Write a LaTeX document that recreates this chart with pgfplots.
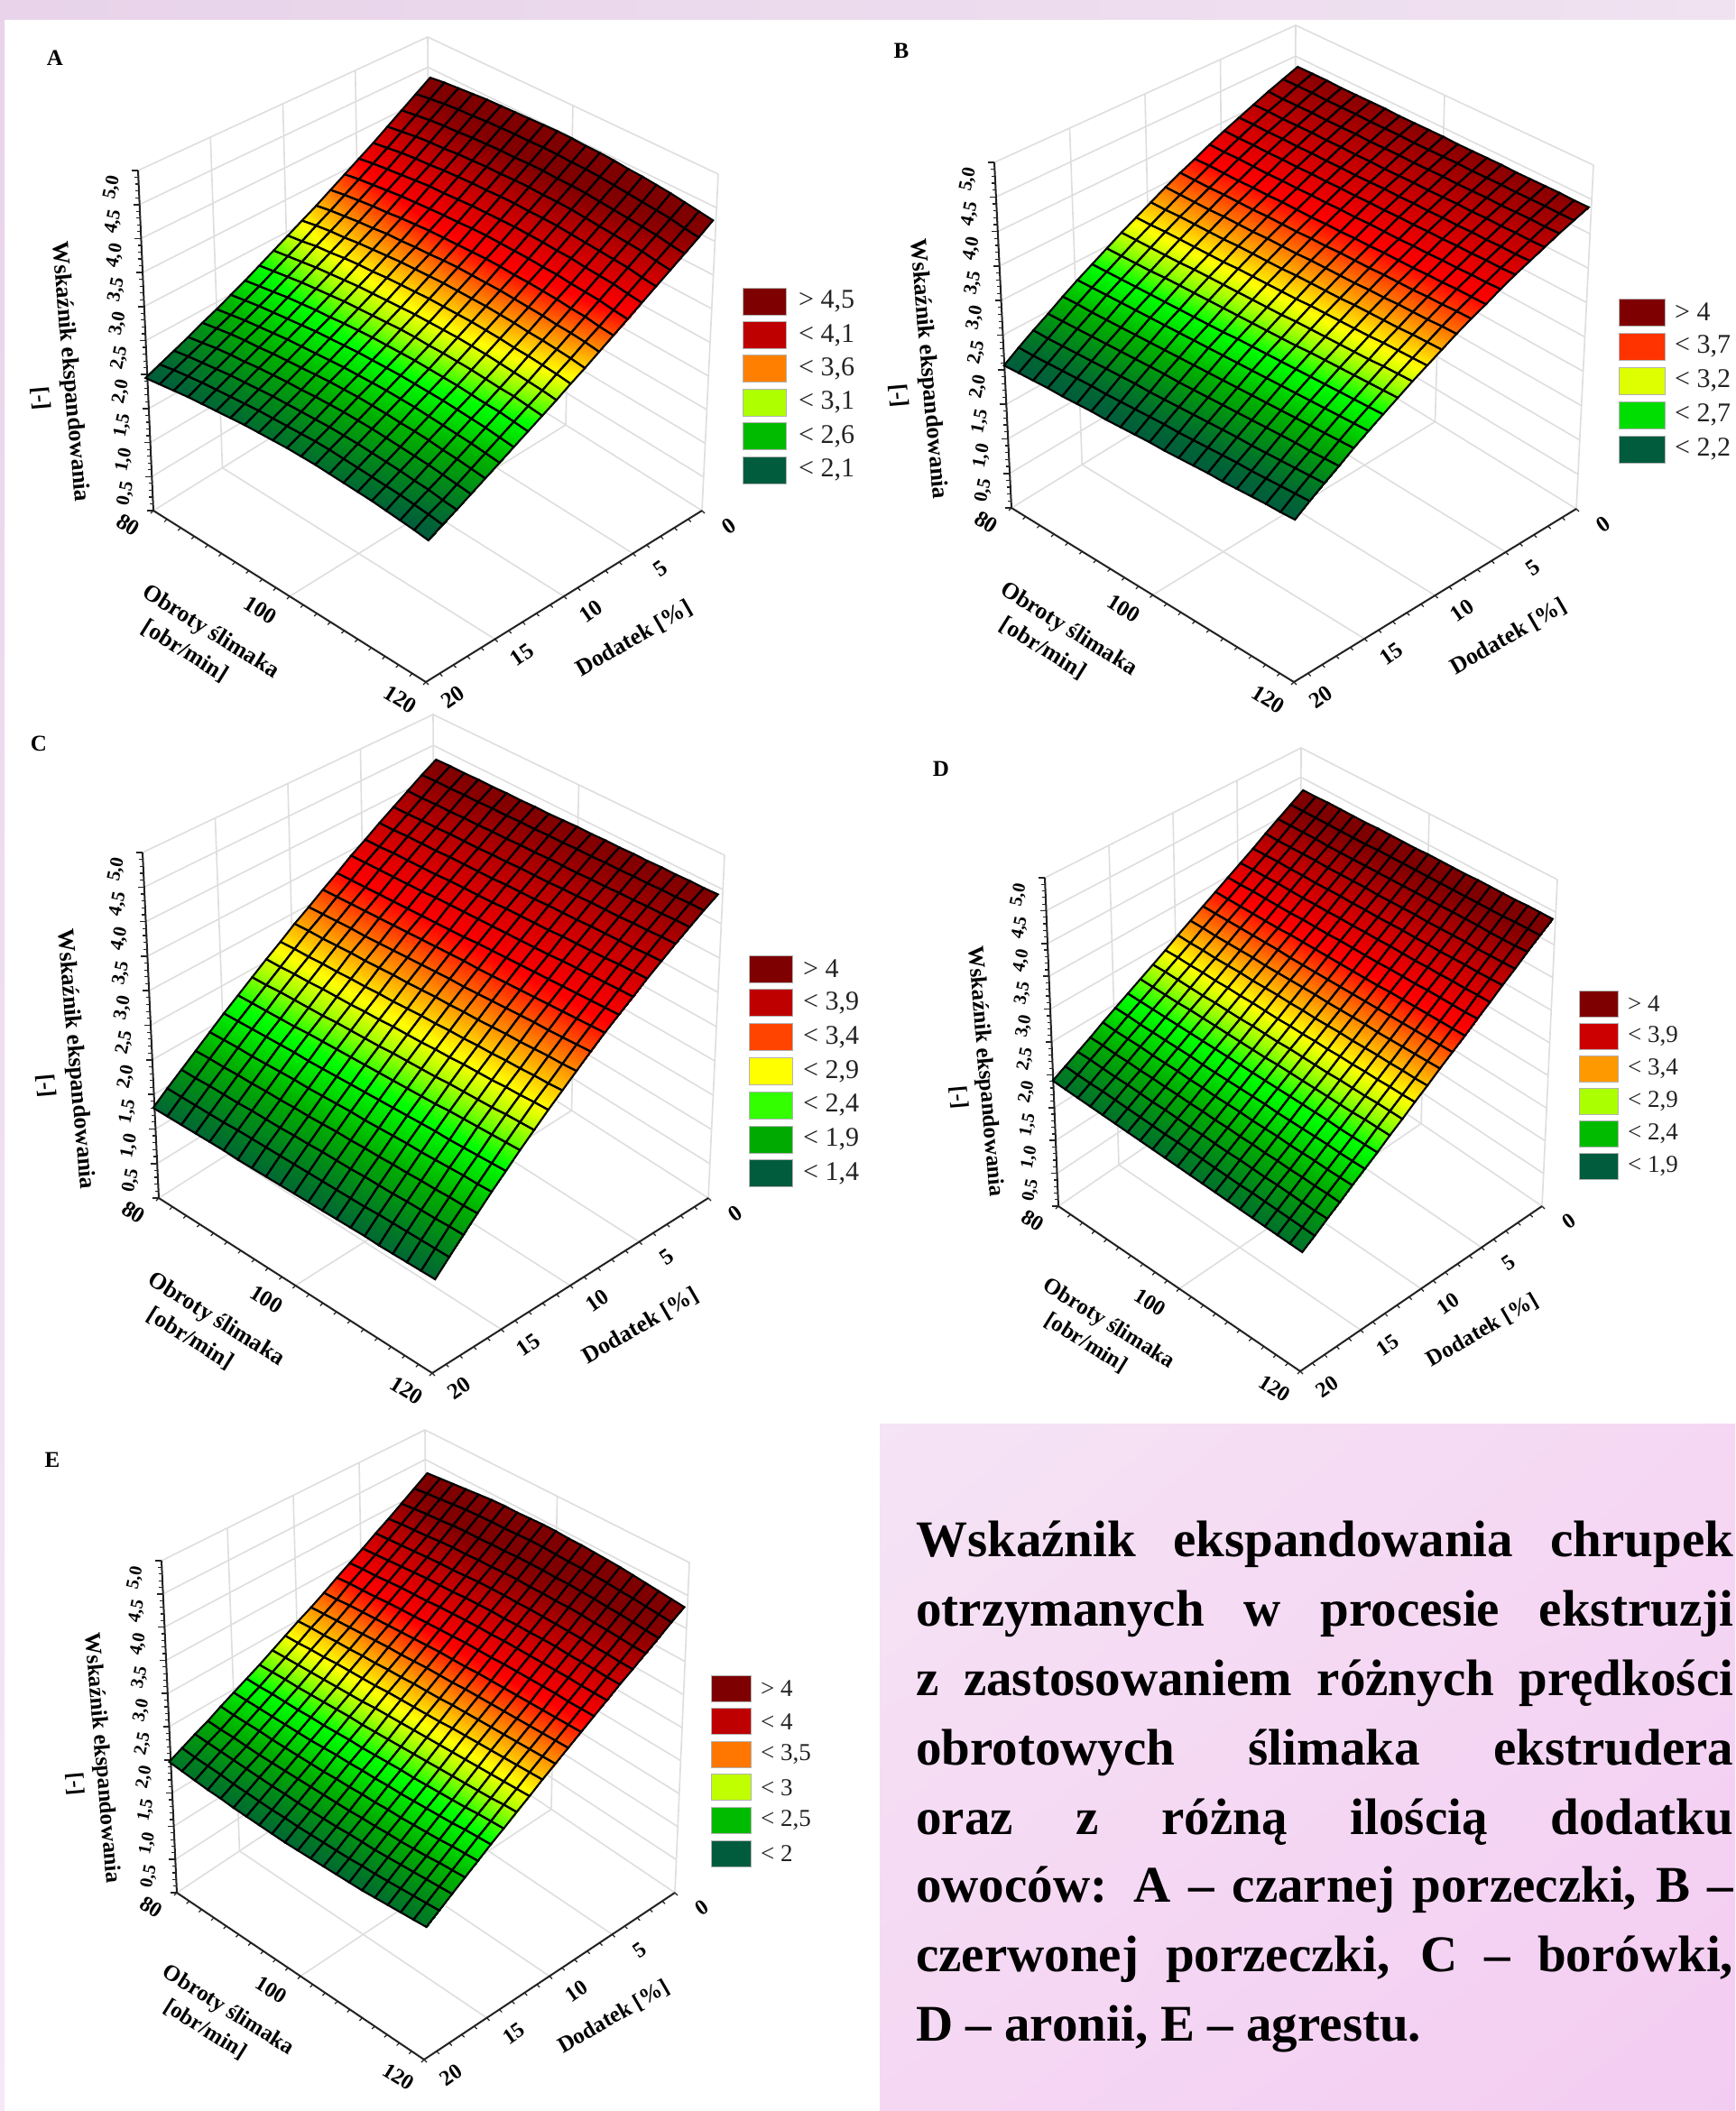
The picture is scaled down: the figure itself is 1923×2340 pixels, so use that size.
\documentclass[border=0pt]{standalone}
\usepackage{pgfplots}
\usepackage{pgfplotstable}
\pgfplotsset{compat=1.18}
\usepackage{fontspec}
\setmainfont{Liberation Serif}
\usetikzlibrary{calc,shadings}
\pgfplotsset{colormap={stat}{rgb255(0cm)=(0,92,60) rgb255(5cm)=(0,130,30) rgb255(10cm)=(0,175,0) rgb255(16cm)=(0,255,0) rgb255(20cm)=(160,255,0) rgb255(23cm)=(255,255,0) rgb255(28cm)=(255,128,0) rgb255(33cm)=(255,0,0) rgb255(40cm)=(191,0,0) rgb255(46cm)=(127,0,0)}}
\pgfplotsset{surfax/.style={hide axis,clip=false,anchor=center,xmin=80,xmax=120,ymin=0,ymax=20,zmin=0,zmax=5,colormap name=stat},
sp/.style={surf,shader=interp,mesh/rows=21,mesh/cols=21,point meta=explicit},
sl/.style={surf,shader=faceted,faceted color=black,fill opacity=0,line width=2.1pt,mesh/rows=21,mesh/cols=21,point meta=explicit}}
\definecolor{gl}{HTML}{DEDEDE}
\definecolor{ax}{HTML}{222222}
\definecolor{cDR}{HTML}{7F0000}
\definecolor{cR}{HTML}{BF0000}
\definecolor{cO}{HTML}{FF8000}
\definecolor{cYG}{HTML}{AEFF00}
\definecolor{cG}{HTML}{00BB00}
\definecolor{cDG}{HTML}{005C3C}
\definecolor{cB3}{HTML}{FF3300}
\definecolor{cB2}{HTML}{DDFF00}
\definecolor{cB1}{HTML}{00DD00}
\definecolor{cC4}{HTML}{FF4400}
\definecolor{cC3}{HTML}{FFFF00}
\definecolor{cC2}{HTML}{33FF00}
\definecolor{cC1}{HTML}{00AA00}
\definecolor{cD4}{HTML}{CC0000}
\definecolor{cD3}{HTML}{FF9900}
\definecolor{cD2}{HTML}{AAFF00}
\definecolor{cE3}{HTML}{FF7700}
\definecolor{cE2}{HTML}{BFFF00}
\newcommand\Frame[5]{%
\coordinate (BF) at ($(LB)+(RB)-(FB)$);
\foreach \t in {0,0.1,0.2,0.3,0.4,0.5,0.6,0.7,0.8,0.9,1}{\draw[gl,line width=1.6pt] ($(LB)!\t!(LT)$) -- ($(BF)!\t!(BT)$) -- ($(RB)!\t!(RT)$);}
\foreach \t in {0.25,0.5,0.75}{\draw[gl,line width=1.6pt] ($(LB)!\t!(BF)$) -- ($(LT)!\t!(BT)$);\draw[gl,line width=1.6pt] ($(LB)!\t!(BF)$) -- ($(FB)!\t!(RB)$);}
\draw[gl,line width=1.6pt] ($(BF)!.5!(RB)$) -- ($(BT)!.5!(RT)$);
\draw[gl,line width=1.6pt] ($(LB)!.5!(FB)$) -- ($(BF)!.5!(RB)$);
\draw[gl,line width=1.6pt] (BF) -- (BT) (RB) -- (RT);
\draw[ax,line width=2pt] (LT) -- (LB) -- (FB) -- (RB);
\foreach \k in {0,...,50}{\draw[ax,line width=1.2pt] ($(LB)!\k/50!(LT)$) -- ++(-4,0);}
\foreach \k in {0,5,...,50}{\draw[ax,line width=1.6pt] ($(LB)!\k/50!(LT)$) -- ++(-7,0);}
\foreach \k in {0,...,20}{\draw[ax,line width=1.2pt] ($(LB)!\k/20!(FB)$) -- ++(-3,3);\draw[ax,line width=1.2pt] ($(RB)!\k/20!(FB)$) -- ++(3,3);}
\foreach \k/\l in {1/{0,5},2/{1,0},3/{1,5},4/{2,0},5/{2,5},6/{3,0},7/{3,5},8/{4,0},9/{4,5},10/{5,0}}{\node[rotate=78,font=\fontsize{#5}{#5}\selectfont\bfseries,inner sep=0pt] at ($(LB)!\k/10!(LT)+(-29,19)$) {\l};}
\node[rotate=-32,font=\fontsize{#4}{#4}\selectfont\bfseries,inner sep=0pt] at ($(LB)+(-28,16)$) {80};
\node[rotate=-32,font=\fontsize{#4}{#4}\selectfont\bfseries,inner sep=0pt] at ($(LB)!.5!(FB)+(-32,15)$) {100};
\node[rotate=-32,font=\fontsize{#4}{#4}\selectfont\bfseries,inner sep=0pt] at ($(FB)+(-28,19)$) {120};
\foreach \k/\l in {0/0,1/5,2/10,3/15,4/20}{\node[rotate=35,font=\fontsize{#4}{#4}\selectfont\bfseries,inner sep=0pt] at ($(RB)!\k/4!(FB)+(30,17)$) {\l};}
\node[rotate=-32,font=\fontsize{#3}{#3}\selectfont\bfseries,inner sep=0pt] at ($(LB)+(63*#1,135*#2)$) {Obroty ślimaka};
\node[rotate=-32,font=\fontsize{#3}{#3}\selectfont\bfseries,inner sep=0pt] at ($(LB)+(35*#1,156*#2)$) {[obr/min]};
\node[rotate=30,font=\fontsize{#3}{#3}\selectfont\bfseries,inner sep=0pt] at ($(RB)+(-75*#1,142*#2)$) {Dodatek [\%]};
\node[rotate=-85,font=\fontsize{#3}{#3}\selectfont\bfseries,inner sep=0pt] at ($(LB)+(-93*#1,-154*#2)$) {Wskaźnik ekspandowania};
\node[rotate=-85,font=\fontsize{#3}{#3}\selectfont\bfseries,inner sep=0pt] at ($(LB)+(-125*#1,-124*#2)$) {[-]};
}
\newcommand\Leg[8]{\foreach \c/\l [count=\i from 0] in {#8}{
\fill[\c,draw=gray!60,line width=1pt] (#1,#2+#3*\i) rectangle ++(#4,#5);
\node[anchor=west,inner sep=0pt,text=ax,font=\fontsize{#7}{#7}\selectfont] at (#6,#2+#5/2+#3*\i) {\l};}}
\newcommand\TL[2]{\node[anchor=base west,inner sep=0pt,font=\fontsize{57}{57}\selectfont\bfseries] at (1015,#1) {\makebox[906pt][s]{#2}};}
\pgfplotstableread[header=false]{
2.05
2.14
2.23
2.32
2.42
2.51
2.61
2.71
2.82
2.93
3.04
3.15
3.26
3.38
3.50
3.62
3.74
3.87
4.00
4.13
4.26
2.07
2.17
2.26
2.35
2.45
2.54
2.64
2.74
2.85
2.96
3.07
3.19
3.30
3.42
3.54
3.66
3.78
3.91
4.04
4.17
4.30
2.09
2.19
2.28
2.38
2.48
2.57
2.67
2.77
2.88
2.99
3.11
3.22
3.33
3.45
3.57
3.69
3.82
3.95
4.08
4.21
4.33
2.11
2.21
2.30
2.40
2.50
2.59
2.69
2.80
2.91
3.02
3.13
3.24
3.36
3.48
3.60
3.72
3.85
3.98
4.11
4.24
4.36
2.12
2.22
2.32
2.41
2.51
2.61
2.71
2.82
2.93
3.04
3.16
3.27
3.38
3.50
3.63
3.75
3.87
4.00
4.13
4.26
4.39
2.13
2.23
2.33
2.43
2.53
2.63
2.73
2.84
2.95
3.06
3.18
3.29
3.41
3.53
3.65
3.78
3.90
4.03
4.16
4.29
4.41
2.14
2.24
2.34
2.44
2.54
2.64
2.75
2.85
2.97
3.08
3.19
3.31
3.42
3.55
3.67
3.79
3.92
4.05
4.18
4.31
4.43
2.15
2.25
2.35
2.45
2.55
2.65
2.76
2.87
2.98
3.09
3.21
3.33
3.44
3.57
3.69
3.81
3.94
4.07
4.20
4.33
4.45
2.15
2.25
2.35
2.45
2.56
2.66
2.77
2.88
2.99
3.10
3.22
3.34
3.45
3.58
3.70
3.83
3.95
4.08
4.21
4.34
4.47
2.15
2.25
2.35
2.46
2.57
2.67
2.78
2.89
3.00
3.11
3.23
3.35
3.47
3.59
3.72
3.84
3.97
4.10
4.23
4.36
4.49
2.15
2.25
2.35
2.46
2.57
2.67
2.78
2.89
3.01
3.12
3.24
3.36
3.48
3.60
3.73
3.85
3.98
4.11
4.24
4.37
4.50
2.14
2.25
2.35
2.46
2.57
2.67
2.78
2.89
3.01
3.12
3.24
3.36
3.48
3.61
3.73
3.86
3.98
4.11
4.24
4.37
4.50
2.13
2.24
2.34
2.45
2.56
2.67
2.78
2.89
3.00
3.12
3.24
3.36
3.48
3.61
3.73
3.86
3.99
4.12
4.25
4.38
4.51
2.11
2.22
2.33
2.44
2.55
2.66
2.77
2.88
3.00
3.12
3.24
3.36
3.48
3.60
3.73
3.86
3.99
4.12
4.25
4.38
4.51
2.09
2.20
2.31
2.42
2.53
2.65
2.76
2.87
2.99
3.11
3.23
3.35
3.47
3.60
3.72
3.85
3.98
4.11
4.24
4.37
4.50
2.07
2.18
2.29
2.40
2.52
2.63
2.75
2.86
2.98
3.10
3.22
3.34
3.46
3.59
3.72
3.85
3.97
4.10
4.23
4.36
4.50
2.05
2.16
2.27
2.38
2.50
2.61
2.73
2.84
2.96
3.08
3.20
3.32
3.45
3.58
3.70
3.83
3.96
4.09
4.22
4.35
4.49
2.02
2.14
2.24
2.36
2.47
2.59
2.71
2.82
2.94
3.06
3.19
3.31
3.43
3.56
3.69
3.82
3.95
4.08
4.21
4.34
4.48
1.99
2.11
2.22
2.33
2.45
2.57
2.69
2.81
2.93
3.04
3.17
3.29
3.42
3.55
3.68
3.81
3.94
4.07
4.20
4.33
4.46
1.96
2.08
2.18
2.30
2.42
2.54
2.66
2.78
2.90
3.02
3.15
3.27
3.40
3.52
3.65
3.78
3.91
4.04
4.17
4.30
4.44
1.92
2.04
2.15
2.27
2.39
2.51
2.63
2.75
2.87
2.99
3.12
3.24
3.37
3.50
3.63
3.76
3.89
4.02
4.15
4.28
4.42
}\tA
\pgfplotstableread[header=false]{
2.13
2.28
2.42
2.55
2.69
2.82
2.94
3.06
3.18
3.29
3.40
3.51
3.61
3.70
3.80
3.89
3.97
4.05
4.13
4.20
4.27
2.13
2.27
2.41
2.55
2.69
2.82
2.94
3.06
3.18
3.29
3.40
3.51
3.61
3.71
3.80
3.89
3.98
4.06
4.13
4.21
4.28
2.13
2.27
2.41
2.55
2.68
2.82
2.94
3.06
3.18
3.30
3.41
3.51
3.61
3.71
3.81
3.90
3.98
4.06
4.14
4.22
4.29
2.13
2.27
2.41
2.55
2.68
2.82
2.94
3.06
3.18
3.30
3.41
3.51
3.62
3.71
3.81
3.90
3.99
4.07
4.15
4.22
4.29
2.12
2.27
2.41
2.55
2.68
2.82
2.94
3.07
3.18
3.30
3.41
3.52
3.62
3.72
3.81
3.91
3.99
4.08
4.15
4.23
4.30
2.12
2.27
2.41
2.55
2.68
2.82
2.94
3.07
3.19
3.30
3.41
3.52
3.62
3.72
3.82
3.91
4.00
4.08
4.16
4.24
4.31
2.12
2.26
2.41
2.55
2.68
2.82
2.94
3.07
3.19
3.30
3.42
3.52
3.63
3.73
3.82
3.92
4.00
4.09
4.17
4.24
4.32
2.11
2.26
2.41
2.55
2.68
2.82
2.94
3.07
3.19
3.31
3.42
3.53
3.63
3.73
3.83
3.92
4.01
4.09
4.17
4.25
4.32
2.11
2.26
2.40
2.55
2.68
2.82
2.94
3.07
3.19
3.31
3.42
3.53
3.63
3.73
3.83
3.93
4.01
4.10
4.18
4.26
4.33
2.11
2.26
2.40
2.54
2.68
2.82
2.94
3.07
3.19
3.31
3.42
3.53
3.64
3.74
3.84
3.93
4.02
4.10
4.19
4.26
4.34
2.11
2.26
2.40
2.54
2.68
2.82
2.95
3.07
3.19
3.31
3.43
3.54
3.64
3.74
3.84
3.94
4.03
4.11
4.19
4.27
4.35
2.10
2.25
2.40
2.54
2.68
2.82
2.95
3.07
3.19
3.31
3.43
3.54
3.65
3.75
3.85
3.94
4.03
4.12
4.20
4.28
4.35
2.10
2.25
2.40
2.54
2.68
2.82
2.95
3.07
3.20
3.32
3.43
3.54
3.65
3.75
3.85
3.95
4.04
4.12
4.21
4.29
4.36
2.10
2.25
2.40
2.54
2.68
2.82
2.95
3.07
3.20
3.32
3.43
3.54
3.65
3.76
3.85
3.95
4.04
4.13
4.21
4.29
4.37
2.10
2.25
2.40
2.54
2.68
2.82
2.95
3.08
3.20
3.32
3.44
3.55
3.66
3.76
3.86
3.96
4.05
4.14
4.22
4.30
4.38
2.09
2.25
2.39
2.54
2.68
2.82
2.95
3.08
3.20
3.32
3.44
3.55
3.66
3.76
3.86
3.96
4.05
4.14
4.23
4.31
4.38
2.09
2.24
2.39
2.54
2.68
2.82
2.95
3.08
3.20
3.32
3.44
3.56
3.66
3.77
3.87
3.97
4.06
4.15
4.23
4.31
4.39
2.09
2.24
2.39
2.54
2.68
2.82
2.95
3.08
3.20
3.33
3.44
3.56
3.67
3.77
3.87
3.97
4.06
4.15
4.24
4.32
4.40
2.09
2.24
2.39
2.53
2.68
2.82
2.95
3.08
3.21
3.33
3.45
3.56
3.67
3.78
3.88
3.98
4.07
4.16
4.25
4.33
4.41
2.08
2.24
2.39
2.53
2.68
2.82
2.95
3.08
3.21
3.33
3.45
3.57
3.68
3.78
3.88
3.98
4.07
4.16
4.25
4.33
4.41
2.08
2.24
2.39
2.53
2.68
2.82
2.95
3.08
3.21
3.33
3.45
3.57
3.68
3.78
3.89
3.99
4.08
4.17
4.26
4.34
4.42
}\tB
\pgfplotstableread[header=false]{
1.39
1.56
1.72
1.88
2.04
2.20
2.35
2.50
2.65
2.79
2.94
3.07
3.21
3.34
3.48
3.60
3.73
3.85
3.97
4.09
4.20
1.38
1.55
1.71
1.88
2.04
2.20
2.35
2.50
2.65
2.80
2.95
3.08
3.22
3.35
3.49
3.61
3.74
3.86
3.98
4.11
4.22
1.37
1.54
1.71
1.87
2.04
2.20
2.35
2.51
2.66
2.80
2.95
3.09
3.23
3.36
3.50
3.63
3.76
3.88
4.00
4.12
4.23
1.36
1.53
1.70
1.87
2.03
2.20
2.35
2.51
2.66
2.81
2.96
3.10
3.24
3.37
3.51
3.64
3.77
3.89
4.01
4.14
4.25
1.35
1.52
1.69
1.86
2.03
2.20
2.35
2.51
2.67
2.81
2.97
3.10
3.25
3.38
3.52
3.65
3.78
3.91
4.03
4.15
4.26
1.34
1.52
1.69
1.86
2.03
2.20
2.36
2.51
2.67
2.82
2.97
3.11
3.26
3.39
3.53
3.66
3.80
3.92
4.04
4.17
4.28
1.32
1.51
1.68
1.85
2.03
2.19
2.36
2.52
2.67
2.82
2.98
3.12
3.27
3.40
3.55
3.68
3.81
3.93
4.06
4.18
4.29
1.31
1.50
1.67
1.85
2.02
2.19
2.36
2.52
2.68
2.83
2.99
3.13
3.28
3.41
3.56
3.69
3.82
3.95
4.07
4.20
4.31
1.30
1.49
1.67
1.84
2.02
2.19
2.36
2.52
2.68
2.83
2.99
3.14
3.29
3.42
3.57
3.70
3.83
3.96
4.09
4.21
4.32
1.29
1.48
1.66
1.84
2.02
2.19
2.36
2.52
2.69
2.84
3.00
3.15
3.30
3.43
3.58
3.71
3.85
3.98
4.10
4.23
4.34
1.28
1.47
1.66
1.84
2.02
2.19
2.36
2.53
2.69
2.85
3.01
3.16
3.31
3.45
3.59
3.73
3.86
3.99
4.12
4.24
4.36
1.27
1.46
1.65
1.83
2.01
2.19
2.36
2.53
2.69
2.85
3.01
3.16
3.31
3.46
3.60
3.74
3.87
4.00
4.13
4.26
4.37
1.26
1.45
1.64
1.83
2.01
2.19
2.36
2.53
2.70
2.86
3.02
3.17
3.32
3.47
3.61
3.75
3.89
4.02
4.14
4.27
4.39
1.25
1.44
1.64
1.82
2.01
2.19
2.36
2.53
2.70
2.86
3.02
3.18
3.33
3.48
3.62
3.76
3.90
4.03
4.16
4.29
4.40
1.24
1.43
1.63
1.82
2.01
2.19
2.36
2.54
2.71
2.87
3.03
3.19
3.34
3.49
3.63
3.78
3.91
4.05
4.17
4.30
4.42
1.23
1.43
1.62
1.81
2.00
2.19
2.37
2.54
2.71
2.87
3.04
3.20
3.35
3.50
3.65
3.79
3.93
4.06
4.19
4.32
4.43
1.21
1.42
1.62
1.81
2.00
2.18
2.37
2.54
2.71
2.88
3.04
3.21
3.36
3.51
3.66
3.80
3.94
4.07
4.20
4.33
4.45
1.20
1.41
1.61
1.80
2.00
2.18
2.37
2.54
2.72
2.88
3.05
3.21
3.37
3.52
3.67
3.81
3.95
4.09
4.22
4.35
4.46
1.19
1.40
1.60
1.80
2.00
2.18
2.37
2.55
2.72
2.89
3.06
3.22
3.38
3.53
3.68
3.83
3.96
4.10
4.23
4.36
4.48
1.18
1.39
1.60
1.79
1.99
2.18
2.37
2.55
2.73
2.89
3.06
3.23
3.39
3.54
3.69
3.84
3.98
4.12
4.25
4.38
4.49
1.17
1.38
1.59
1.79
1.99
2.18
2.37
2.55
2.73
2.90
3.07
3.24
3.40
3.55
3.70
3.85
3.99
4.13
4.26
4.39
4.51
}\tC
\pgfplotstableread[header=false]{
1.98
2.09
2.20
2.31
2.43
2.54
2.65
2.76
2.87
2.98
3.10
3.21
3.32
3.43
3.54
3.65
3.76
3.88
3.99
4.10
4.21
1.96
2.07
2.19
2.30
2.41
2.53
2.64
2.75
2.87
2.98
3.09
3.21
3.32
3.43
3.54
3.66
3.77
3.88
4.00
4.11
4.22
1.94
2.05
2.17
2.28
2.40
2.51
2.63
2.74
2.86
2.97
3.09
3.20
3.32
3.43
3.55
3.66
3.78
3.89
4.01
4.12
4.24
1.92
2.04
2.15
2.27
2.39
2.50
2.62
2.73
2.85
2.97
3.08
3.20
3.32
3.43
3.55
3.67
3.78
3.90
4.02
4.13
4.25
1.90
2.02
2.14
2.25
2.37
2.49
2.61
2.73
2.84
2.96
3.08
3.20
3.32
3.43
3.55
3.67
3.79
3.91
4.02
4.14
4.26
1.88
2.00
2.12
2.24
2.36
2.48
2.60
2.72
2.84
2.96
3.08
3.20
3.32
3.43
3.55
3.67
3.79
3.91
4.03
4.15
4.27
1.86
1.98
2.10
2.22
2.35
2.47
2.59
2.71
2.83
2.95
3.07
3.19
3.32
3.44
3.56
3.68
3.80
3.92
4.04
4.16
4.29
1.84
1.96
2.09
2.21
2.33
2.45
2.58
2.70
2.82
2.95
3.07
3.19
3.31
3.44
3.56
3.68
3.81
3.93
4.05
4.18
4.30
1.82
1.94
2.07
2.19
2.32
2.44
2.57
2.69
2.82
2.94
3.07
3.19
3.31
3.44
3.56
3.69
3.81
3.94
4.06
4.19
4.31
1.80
1.93
2.05
2.18
2.30
2.43
2.56
2.68
2.81
2.93
3.06
3.19
3.31
3.44
3.57
3.69
3.82
3.94
4.07
4.20
4.32
1.78
1.91
2.04
2.16
2.29
2.42
2.55
2.67
2.80
2.93
3.06
3.19
3.31
3.44
3.57
3.70
3.82
3.95
4.08
4.21
4.34
1.76
1.89
2.02
2.15
2.28
2.41
2.54
2.67
2.80
2.92
3.05
3.18
3.31
3.44
3.57
3.70
3.83
3.96
4.09
4.22
4.35
1.74
1.87
2.00
2.13
2.26
2.40
2.53
2.66
2.79
2.92
3.05
3.18
3.31
3.44
3.57
3.71
3.84
3.97
4.10
4.23
4.36
1.72
1.85
1.99
2.12
2.25
2.38
2.52
2.65
2.78
2.91
3.05
3.18
3.31
3.44
3.58
3.71
3.84
3.97
4.11
4.24
4.37
1.70
1.83
1.97
2.10
2.24
2.37
2.51
2.64
2.77
2.91
3.04
3.18
3.31
3.45
3.58
3.71
3.85
3.98
4.12
4.25
4.39
1.68
1.82
1.95
2.09
2.22
2.36
2.50
2.63
2.77
2.90
3.04
3.17
3.31
3.45
3.58
3.72
3.85
3.99
4.13
4.26
4.40
1.66
1.80
1.94
2.07
2.21
2.35
2.49
2.62
2.76
2.90
3.04
3.17
3.31
3.45
3.59
3.72
3.86
4.00
4.14
4.27
4.41
1.64
1.78
1.92
2.06
2.20
2.34
2.47
2.61
2.75
2.89
3.03
3.17
3.31
3.45
3.59
3.73
3.87
4.00
4.14
4.28
4.42
1.62
1.76
1.90
2.04
2.18
2.32
2.46
2.61
2.75
2.89
3.03
3.17
3.31
3.45
3.59
3.73
3.87
4.01
4.15
4.30
4.44
1.60
1.74
1.88
2.03
2.17
2.31
2.45
2.60
2.74
2.88
3.02
3.17
3.31
3.45
3.59
3.74
3.88
4.02
4.16
4.31
4.45
1.58
1.72
1.87
2.01
2.16
2.30
2.44
2.59
2.73
2.88
3.02
3.17
3.31
3.45
3.60
3.74
3.89
4.03
4.18
4.32
4.46
}\tD
\pgfplotstableread[header=false]{
2.03
2.13
2.23
2.32
2.43
2.53
2.63
2.73
2.84
2.95
3.06
3.16
3.27
3.39
3.50
3.61
3.73
3.84
3.96
4.08
4.20
2.00
2.10
2.21
2.30
2.41
2.52
2.62
2.73
2.84
2.95
3.07
3.17
3.28
3.41
3.52
3.63
3.75
3.87
3.99
4.11
4.23
1.97
2.08
2.19
2.29
2.40
2.51
2.62
2.73
2.84
2.96
3.07
3.18
3.30
3.42
3.53
3.65
3.77
3.89
4.02
4.14
4.26
1.94
2.06
2.17
2.27
2.39
2.50
2.61
2.72
2.84
2.96
3.08
3.19
3.31
3.43
3.55
3.67
3.79
3.91
4.04
4.17
4.29
1.92
2.03
2.15
2.25
2.37
2.49
2.60
2.72
2.84
2.97
3.08
3.20
3.32
3.45
3.57
3.69
3.81
3.94
4.07
4.20
4.32
1.89
2.01
2.13
2.24
2.36
2.48
2.60
2.72
2.84
2.97
3.09
3.21
3.33
3.46
3.58
3.71
3.83
3.96
4.09
4.22
4.35
1.87
1.99
2.11
2.23
2.35
2.47
2.59
2.72
2.84
2.97
3.09
3.22
3.34
3.47
3.59
3.72
3.84
3.97
4.10
4.24
4.37
1.85
1.97
2.10
2.22
2.34
2.47
2.59
2.72
2.84
2.97
3.10
3.22
3.35
3.48
3.61
3.73
3.86
3.99
4.12
4.25
4.38
1.83
1.96
2.08
2.21
2.33
2.47
2.59
2.71
2.85
2.98
3.10
3.23
3.36
3.49
3.62
3.75
3.88
4.00
4.13
4.27
4.40
1.81
1.94
2.07
2.20
2.33
2.46
2.58
2.71
2.85
2.98
3.11
3.24
3.37
3.50
3.63
3.76
3.89
4.02
4.15
4.29
4.42
1.80
1.93
2.06
2.19
2.32
2.46
2.58
2.71
2.85
2.98
3.11
3.24
3.37
3.51
3.64
3.77
3.90
4.03
4.16
4.30
4.43
1.79
1.92
2.05
2.18
2.32
2.45
2.58
2.71
2.85
2.98
3.11
3.24
3.37
3.51
3.64
3.77
3.90
4.03
4.17
4.30
4.43
1.78
1.91
2.05
2.18
2.31
2.45
2.58
2.71
2.85
2.98
3.12
3.25
3.38
3.51
3.65
3.78
3.91
4.04
4.17
4.30
4.44
1.77
1.90
2.04
2.17
2.31
2.44
2.57
2.71
2.85
2.99
3.12
3.25
3.38
3.52
3.65
3.78
3.91
4.04
4.18
4.31
4.44
1.76
1.90
2.03
2.17
2.30
2.44
2.57
2.71
2.85
2.99
3.12
3.25
3.38
3.52
3.65
3.79
3.91
4.05
4.18
4.31
4.44
1.75
1.89
2.03
2.16
2.30
2.44
2.57
2.71
2.85
2.99
3.12
3.25
3.38
3.52
3.65
3.79
3.91
4.05
4.18
4.31
4.44
1.75
1.89
2.03
2.16
2.30
2.44
2.57
2.71
2.85
2.99
3.12
3.25
3.38
3.52
3.65
3.78
3.91
4.04
4.17
4.30
4.43
1.75
1.89
2.03
2.16
2.30
2.44
2.57
2.71
2.85
2.99
3.12
3.25
3.38
3.52
3.65
3.78
3.90
4.04
4.17
4.30
4.42
1.75
1.89
2.03
2.17
2.31
2.45
2.58
2.71
2.85
2.99
3.12
3.25
3.38
3.51
3.64
3.78
3.90
4.03
4.16
4.29
4.41
1.75
1.89
2.03
2.17
2.31
2.45
2.58
2.72
2.85
2.99
3.12
3.25
3.38
3.51
3.64
3.77
3.89
4.02
4.15
4.28
4.40
1.75
1.89
2.03
2.17
2.31
2.45
2.58
2.72
2.85
2.99
3.12
3.25
3.38
3.51
3.64
3.77
3.89
4.02
4.14
4.27
4.39
}\tE
\def\ii{floor((\pgfplotstablerow+0.5)/21)}
\def\jj{(\pgfplotstablerow-21*\ii)}
\pgfplotstablecreatecol[create col/expr={\thisrowno{0}-\ii/20*(-0.13*(1-\jj/20)+0.16*\jj/20)}]{M}\tA
\pgfplotstablecreatecol[create col/expr={80+2*\ii}]{X}\tA
\pgfplotstablecreatecol[create col/expr={20-\jj}]{Y}\tA
\pgfplotstablecreatecol[create col/expr={\thisrowno{0}-\ii/20*(-0.05*(1-\jj/20)+0.15*\jj/20)}]{M}\tB
\pgfplotstablecreatecol[create col/expr={80+2*\ii}]{X}\tB
\pgfplotstablecreatecol[create col/expr={20-\jj}]{Y}\tB
\pgfplotstablecreatecol[create col/expr={\thisrowno{0}-\ii/20*(-0.22*(1-\jj/20)+0.31*\jj/20)}]{M}\tC
\pgfplotstablecreatecol[create col/expr={80+2*\ii}]{X}\tC
\pgfplotstablecreatecol[create col/expr={20-\jj}]{Y}\tC
\pgfplotstablecreatecol[create col/expr={\thisrowno{0}-\ii/20*(-0.40*(1-\jj/20)+0.25*\jj/20)}]{M}\tD
\pgfplotstablecreatecol[create col/expr={80+2*\ii}]{X}\tD
\pgfplotstablecreatecol[create col/expr={20-\jj}]{Y}\tD
\pgfplotstablecreatecol[create col/expr={\thisrowno{0}-\ii/20*(-0.28*(1-\jj/20)+0.19*\jj/20)}]{M}\tE
\pgfplotstablecreatecol[create col/expr={80+2*\ii}]{X}\tE
\pgfplotstablecreatecol[create col/expr={20-\jj}]{Y}\tE
\begin{document}
\begin{tikzpicture}
\useasboundingbox (0,0) rectangle (1923pt,-2340pt);
\fill[white] (0,0) rectangle (1923pt,-2340pt);
\begin{scope}[x=1pt,y=-1pt]
\shade[left color={rgb,255:red,232;green,211;blue,234},right color={rgb,255:red,240;green,226;blue,241}] (0,0) rectangle (1923,21);
\shade[top color={rgb,255:red,232;green,211;blue,234},bottom color={rgb,255:red,246;green,232;blue,247}] (0,0) rectangle (5,2340);
\shade[upper left={rgb,255:red,245;green,228;blue,245},upper right={rgb,255:red,245;green,215;blue,243},lower left={rgb,255:red,245;green,215;blue,243},lower right={rgb,255:red,243;green,204;blue,242}] (975,1578) rectangle (1923,2340);
\coordinate (LB) at (170,566);\coordinate (LT) at (153,189);\coordinate (RB) at (778,566);\coordinate (RT) at (796,193);\coordinate (FB) at (472,756);\coordinate (BT) at (474,41);
\Frame{1}{1}{26}{25}{21}
\coordinate (LB) at (1121,563);\coordinate (LT) at (1102,180);\coordinate (RB) at (1747,564);\coordinate (RT) at (1766,183);\coordinate (FB) at (1434,756);\coordinate (BT) at (1436,28);
\Frame{1}{1}{26}{25}{21}
\coordinate (LB) at (176,1328);\coordinate (LT) at (158,945);\coordinate (RB) at (785,1328);\coordinate (RT) at (803,948);\coordinate (FB) at (479,1522);\coordinate (BT) at (480,792);
\Frame{1}{1}{26}{25}{21}
\coordinate (LB) at (1173,1337);\coordinate (LT) at (1158,973);\coordinate (RB) at (1709,1337);\coordinate (RT) at (1726,975);\coordinate (FB) at (1441,1520);\coordinate (BT) at (1442,829);
\Frame{0.88}{0.97}{25}{24}{20}
\coordinate (LB) at (196,2098);\coordinate (LT) at (179,1730);\coordinate (RB) at (748,2098);\coordinate (RT) at (764,1732);\coordinate (FB) at (470,2283);\coordinate (BT) at (471,1585);
\Frame{0.9}{0.97}{25}{24}{20}
\node[font=\fontsize{25}{25}\selectfont\bfseries] at (61,64) {A};
\node[font=\fontsize{25}{25}\selectfont\bfseries] at (999,56) {B};
\node[font=\fontsize{25}{25}\selectfont\bfseries] at (43,824) {C};
\node[font=\fontsize{25}{25}\selectfont\bfseries] at (1043,852) {D};
\node[font=\fontsize{25}{25}\selectfont\bfseries] at (58,1618) {E};
\Leg{823}{319}{37.4}{48}{30}{885}{30}{cDR/{> 4,5},cR/{< 4,1},cO/{< 3,6},cYG/{< 3,1},cG/{< 2,6},cDG/{< 2,1}}
\Leg{1794}{331}{38}{51}{30}{1856}{30}{cDR/{> 4},cB3/{< 3,7},cB2/{< 3,2},cB1/{< 2,7},cDG/{< 2,2}}
\Leg{830}{1059}{37.8}{48}{30}{890}{30}{cDR/{> 4},cR/{< 3,9},cC4/{< 3,4},cC3/{< 2,9},cC2/{< 2,4},cC1/{< 1,9},cDG/{< 1,4}}
\Leg{1750}{1098}{36}{43}{29}{1804}{27}{cDR/{> 4},cD4/{< 3,9},cD3/{< 3,4},cD2/{< 2,9},cG/{< 2,4},cDG/{< 1,9}}
\Leg{788}{1857}{36.6}{44}{29}{843}{27}{cDR/{> 4},cR/{< 4},cE3/{< 3,5},cE2/{< 3},cG/{< 2,5},cDG/{< 2}}
\TL{1725}{Wskaźnik ekspandowania chrupek}
\TL{1802}{otrzymanych w procesie ekstruzji}
\TL{1879}{z zastosowaniem różnych prędkości}
\TL{1956}{obrotowych ślimaka ekstrudera}
\TL{2033}{oraz z różną ilością dodatku}
\TL{2108}{owoców: A – czarnej porzeczki, B –}
\TL{2185}{czerwonej porzeczki, C – borówki,}
\node[anchor=base west,inner sep=0pt,font=\fontsize{57}{57}\selectfont\bfseries] at (1015,2262) {D – aronii, E – agrestu.};
\end{scope}
\begin{axis}[surfax,at={(475.75pt,-386.75pt)},x={(7.8375pt,-4.2563pt)},y={(-15.775pt,-8.3625pt)},z={(0pt,75pt)},point meta min=2.105,point meta max=4.175]
\addplot3[sp] table[x=X,y=Y,z index=0,meta=M] {\tA};
\addplot3[sl] table[x=X,y=Y,z index=0,meta=M] {\tA};
\end{axis}
\begin{axis}[surfax,at={(1436.75pt,-376.75pt)},x={(8.0625pt,-4.18pt)},y={(-16.275pt,-8.355pt)},z={(0pt,76.6pt)},point meta min=2.2,point meta max=4.316]
\addplot3[sp] table[x=X,y=Y,z index=0,meta=M] {\tB};
\addplot3[sl] table[x=X,y=Y,z index=0,meta=M] {\tB};
\end{axis}
\begin{axis}[surfax,at={(482.75pt,-1144.2pt)},x={(7.8125pt,-4.329pt)},y={(-15.675pt,-8.54pt)},z={(0pt,76.6pt)},point meta min=1.3,point meta max=4.17]
\addplot3[sp] table[x=X,y=Y,z index=0,meta=M] {\tC};
\addplot3[sl] table[x=X,y=Y,z index=0,meta=M] {\tC};
\end{axis}
\begin{axis}[surfax,at={(1443.75pt,-1160.7pt)},x={(6.9125pt,-4.0225pt)},y={(-13.875pt,-7.985pt)},z={(0pt,72.8pt)},point meta min=1.85,point meta max=4.095]
\addplot3[sp] table[x=X,y=Y,z index=0,meta=M] {\tD};
\addplot3[sl] table[x=X,y=Y,z index=0,meta=M] {\tD};
\end{axis}
\begin{axis}[surfax,at={(473pt,-1919.45pt)},x={(7.125pt,-4.06pt)},y={(-14.3pt,-8.015pt)},z={(0pt,73.6pt)},point meta min=1.87,point meta max=4.05]
\addplot3[sp] table[x=X,y=Y,z index=0,meta=M] {\tE};
\addplot3[sl] table[x=X,y=Y,z index=0,meta=M] {\tE};
\end{axis}
\end{tikzpicture}
\end{document}
